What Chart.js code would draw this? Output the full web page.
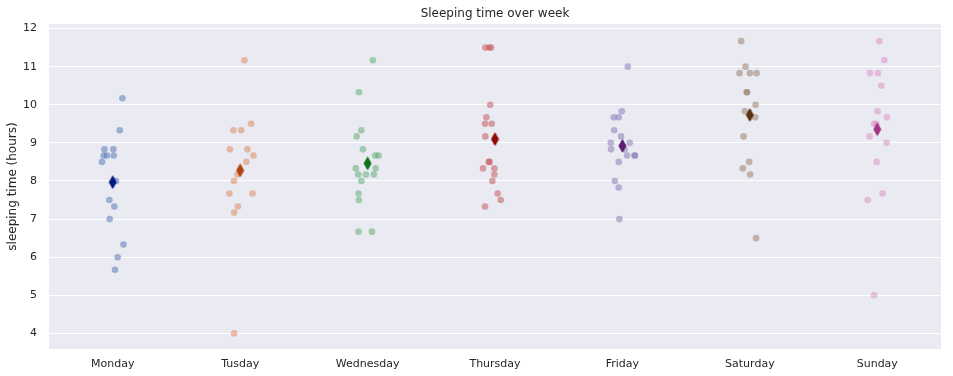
<!DOCTYPE html>
<html>
<head>
<meta charset="utf-8">
<script src="https://cdn.jsdelivr.net/npm/chart.js@4/dist/chart.umd.min.js"></script>
<style>
  html, body { margin: 0; padding: 0; background: #ffffff; }
  #wrap { width: 953px; height: 376px; }
</style>
</head>
<body>
<div id="wrap"><canvas id="c" width="953" height="376"></canvas></div>
<script>
// ---- data ----
const categories = ['Monday', 'Tusday', 'Wednesday', 'Thursday', 'Friday', 'Saturday', 'Sunday'];
const yTicks = [4, 5, 6, 7, 8, 9, 10, 11, 12];

const mondayHours    = [10.17, 9.33, 8.83, 8.83, 8.67, 8.67, 8.67, 8.5, 8.0, 7.5, 7.33, 7.0, 6.33, 6.0, 5.67];
const mondayJitter   = [0.076, 0.055, -0.065, 0.005, -0.071, -0.045, 0.008, -0.084, 0.026, -0.026, 0.013, -0.024, 0.084, 0.039, 0.018];

const tuesdayHours   = [11.17, 9.5, 9.33, 9.33, 8.83, 8.83, 8.67, 8.5, 8.17, 8.0, 7.67, 7.67, 7.33, 7.17, 4.0];
const tuesdayJitter  = [0.034, 0.086, -0.053, 0.008, -0.081, 0.057, 0.104, 0.049, -0.021, -0.049, -0.084, 0.097, -0.018, -0.047, -0.047];

const wednesdayHours = [11.17, 10.33, 9.33, 9.17, 8.83, 8.67, 8.67, 8.33, 8.33, 8.17, 8.17, 8.17, 8.0, 7.67, 7.5, 6.67, 6.67];
const wednesdayJitter= [0.042, -0.068, -0.049, -0.086, -0.037, 0.060, 0.086, -0.092, 0.063, -0.073, -0.013, 0.049, -0.049, -0.071, -0.068, -0.071, 0.034];

const thursdayHours  = [11.5, 11.5, 11.5, 10.0, 9.67, 9.5, 9.5, 9.17, 8.5, 8.5, 8.33, 8.33, 8.17, 8.0, 7.67, 7.5, 7.33];
const thursdayJitter = [-0.076, -0.045, -0.031, -0.037, -0.068, -0.078, -0.026, -0.076, -0.049, -0.042, -0.094, -0.005, -0.005, -0.021, 0.021, 0.045, -0.078];

const fridayHours    = [11.0, 9.83, 9.67, 9.67, 9.33, 9.17, 9.0, 9.0, 8.83, 8.83, 8.67, 8.67, 8.67, 8.5, 8.0, 7.83, 7.0];
const fridayJitter   = [0.042, -0.005, -0.068, -0.029, -0.065, -0.010, -0.092, 0.057, -0.089, 0.018, 0.037, 0.094, 0.100, -0.029, -0.060, -0.029, -0.024];

const saturdayHours  = [11.67, 11.0, 10.83, 10.83, 10.83, 10.33, 10.33, 10.0, 9.83, 9.67, 9.17, 8.5, 8.33, 8.17, 6.5];
const saturdayJitter = [-0.068, -0.034, -0.081, 0.0, 0.053, -0.026, -0.021, 0.045, -0.039, 0.042, -0.049, -0.005, -0.055, 0.002, 0.049];

const sundayHours    = [11.67, 11.17, 10.83, 10.83, 10.5, 9.83, 9.67, 9.5, 9.5, 9.17, 9.0, 8.5, 7.67, 7.5, 5.0];
const sundayJitter   = [0.016, 0.055, -0.057, 0.005, 0.031, 0.002, 0.076, -0.026, -0.008, -0.060, 0.073, -0.005, 0.042, -0.076, -0.026];

// ---- styling ----
const hoursByDay  = [mondayHours, tuesdayHours, wednesdayHours, thursdayHours, fridayHours, saturdayHours, sundayHours];
const jitterByDay = [mondayJitter, tuesdayJitter, wednesdayJitter, thursdayJitter, fridayJitter, saturdayJitter, sundayJitter];
const deep = ['76,114,176', '221,132,82', '85,168,104', '196,78,82', '129,114,179', '147,120,96', '218,139,195'];
const dark = ['#001c7f', '#b1400d', '#12711c', '#8c0800', '#591e71', '#592f0d', '#a23582'];
const FONT = "'DejaVu Sans', sans-serif";
const TXT = '#262626';

function makeDiamond(color) {
  const w = 9, h = 14;
  const cv = document.createElement('canvas');
  cv.width = w; cv.height = h;
  const g = cv.getContext('2d');
  g.fillStyle = color;
  g.strokeStyle = color;
  g.lineWidth = 1;
  g.beginPath();
  g.moveTo(w / 2, 0.8);
  g.lineTo(w - 1.0, h / 2);
  g.lineTo(w / 2, h - 0.8);
  g.lineTo(1.0, h / 2);
  g.closePath();
  g.fill();
  g.stroke();
  return cv;
}
const diamonds = dark.map(makeDiamond);

const mean = arr => arr.reduce((a, b) => a + b, 0) / arr.length;

const datasets = [];
datasets.push({
  label: 'mean',
  data: categories.map((c, i) => ({ x: i, y: mean(hoursByDay[i]) })),
  pointStyle: ctx => diamonds[ctx.dataIndex],
  pointRadius: 7,
  showLine: false
});
categories.forEach((c, i) => {
  datasets.push({
    label: c,
    data: hoursByDay[i].map((v, k) => ({ x: i + jitterByDay[i][k], y: v })),
    backgroundColor: 'rgba(' + deep[i] + ',0.5)',
    borderWidth: 0,
    pointRadius: 3.3,
    pointHoverRadius: 3.3
  });
});

const bgPlugin = {
  id: 'plotBg',
  beforeDraw(chart) {
    const a = chart.chartArea;
    const ctx = chart.ctx;
    ctx.save();
    ctx.fillStyle = '#eaeaf2';
    ctx.fillRect(a.left, a.top, a.right - a.left, a.bottom - a.top);
    ctx.restore();
  }
};

new Chart(document.getElementById('c'), {
  type: 'scatter',
  data: { datasets },
  plugins: [bgPlugin],
  options: {
    responsive: false,
    animation: false,
    events: [],
    layout: { padding: { left: 0, right: 12, top: 0, bottom: 0 } },
    plugins: {
      legend: { display: false },
      tooltip: { enabled: false },
      title: {
        display: true,
        text: 'Sleeping time over week',
        fullSize: false,
        color: TXT,
        font: { family: FONT, size: 12, weight: 'normal' },
        padding: { top: 7, bottom: 2.6 }
      }
    },
    scales: {
      x: {
        type: 'linear',
        min: -0.5,
        max: 6.5,
        afterBuildTicks: s => { s.ticks = categories.map((c, i) => ({ value: i })); },
        afterFit: s => { s.height = 27; },
        grid: { display: false, drawTicks: false },
        border: { display: false },
        ticks: {
          padding: 9,
          color: TXT,
          font: { family: FONT, size: 11 },
          maxRotation: 0,
          autoSkip: false,
          callback: v => categories[Math.round(v)]
        }
      },
      y: {
        type: 'linear',
        min: 3.59,
        max: 12.12,
        afterBuildTicks: s => { s.ticks = yTicks.map(v => ({ value: v })); },
        afterFit: s => { s.width = 49; },
        grid: { color: '#ffffff', lineWidth: 1, drawTicks: false },
        border: { display: false },
        ticks: {
          padding: 12,
          color: TXT,
          font: { family: FONT, size: 11 }
        },
        title: {
          display: true,
          text: 'sleeping time (hours)',
          color: TXT,
          font: { family: FONT, size: 12 },
          padding: { top: 6, bottom: 0 }
        }
      }
    }
  }
});
</script>
</body>
</html>
